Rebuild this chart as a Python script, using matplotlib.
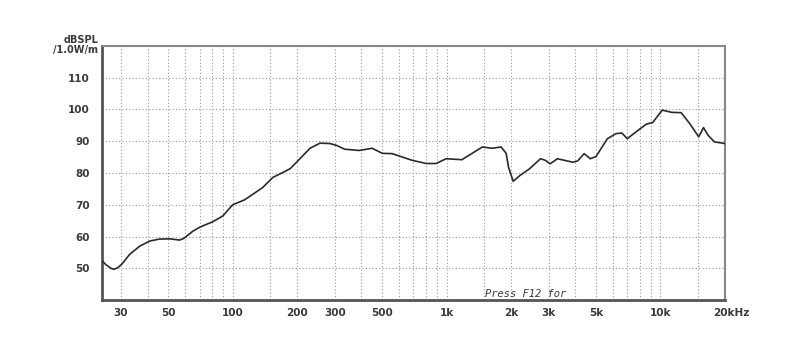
import matplotlib
matplotlib.use("Agg")
import matplotlib.pyplot as plt
import matplotlib.transforms as mtrans
from matplotlib.ticker import FixedLocator, NullFormatter, NullLocator

# Frequency response data (Hz, dB SPL)
freq = [24.5, 25.5, 27.0, 27.8, 29.0, 30.3, 33.0, 36.8, 41.0, 45.3, 50.6, 56.5, 59.0,
        65.2, 70.4, 80.9, 90.0, 100, 114, 138, 154, 172, 186, 207, 230, 256, 284, 306,
        334, 391, 449, 501, 557, 691, 803, 894, 995, 1180, 1470, 1630, 1800, 1900,
        1950, 2050, 2200, 2440, 2750, 2900, 3050, 3300, 3900, 4100, 4400, 4700, 5000,
        5650, 6200, 6600, 7000, 7500, 8600, 9200, 10200, 11300, 12500, 13700, 15100,
        15900, 16700, 17900, 20000]
spl = [52.4, 51.2, 50.0, 49.7, 50.2, 51.3, 54.4, 57.0, 58.6, 59.2, 59.3, 58.9, 59.4,
       61.7, 63.0, 64.7, 66.5, 70.0, 71.6, 75.4, 78.6, 80.2, 81.4, 84.6, 87.8, 89.4,
       89.3, 88.7, 87.5, 87.1, 87.8, 86.2, 86.1, 84.0, 83.0, 83.0, 84.5, 84.2, 88.2,
       87.8, 88.2, 86.2, 81.8, 77.4, 79.2, 81.3, 84.5, 84.0, 82.9, 84.5, 83.4, 83.8,
       86.1, 84.5, 85.2, 90.8, 92.4, 92.6, 90.8, 92.4, 95.4, 95.9, 99.8, 99.1, 99.0,
       95.6, 91.4, 94.3, 91.9, 89.8, 89.3]

x_grid = [30, 40, 50, 60, 70, 80, 90, 100, 150, 200, 300, 400, 500, 600, 700, 800,
          900, 1000, 1500, 2000, 3000, 4000, 5000, 6000, 7000, 8000, 9000, 10000, 15000]
x_ticks = [30, 50, 100, 200, 300, 500, 1000, 2000, 3000, 5000, 10000, 20000]
x_labels = ["30", "50", "100", "200", "300", "500", "1k", "2k", "3k", "5k", "10k", "20kHz"]
y_ticks = [50, 60, 70, 80, 90, 100, 110]

txt = "#3a3a3a"
fig = plt.figure(figsize=(8.0, 3.59), dpi=100)
ax = fig.add_axes([0.1275, 0.164, 0.7785, 0.708])
ax.set_xscale("log")
ax.set_xlim(24.5, 20000)
ax.set_ylim(40, 120)

for g in x_grid:
    ax.axvline(g, color="#999999", lw=0.8, ls=(0, (1, 2)), zorder=1)
for g in y_ticks:
    ax.axhline(g, color="#999999", lw=0.8, ls=(0, (1, 2)), zorder=1)

ax.plot(freq, spl, color="#2a2a2a", lw=1.2, zorder=3)

ax.xaxis.set_major_locator(FixedLocator(x_ticks))
ax.set_xticklabels(x_labels)
ax.xaxis.set_minor_locator(NullLocator())
ax.xaxis.set_minor_formatter(NullFormatter())
ax.set_yticks(y_ticks)
ax.tick_params(axis="x", length=0, pad=6, labelsize=7.5, colors=txt)
ax.tick_params(axis="y", length=0, pad=9, labelsize=7.5, colors=txt)
for lab in ax.get_xticklabels() + ax.get_yticklabels():
    lab.set_fontweight("bold")
last = ax.get_xticklabels()[-1]
last.set_transform(last.get_transform() + mtrans.ScaledTranslation(0.07, 0, fig.dpi_scale_trans))

for side in ["left", "bottom"]:
    ax.spines[side].set_color("#555555")
    ax.spines[side].set_linewidth(2.0)
for side in ["top", "right"]:
    ax.spines[side].set_color("#888888")
    ax.spines[side].set_linewidth(1.5)

fig.text(0.123, 0.848, "dBSPL\n/1.0W/m", ha="right", va="bottom", fontsize=7,
         fontweight="bold", color=txt, linespacing=0.95)
ax.text(0.615, 0.005, "Press F12 for", transform=ax.transAxes, ha="left", va="bottom",
        fontsize=7.5, family="DejaVu Sans Mono", color=txt, style="italic")

fig.savefig("out.png", dpi=100, facecolor="white")
